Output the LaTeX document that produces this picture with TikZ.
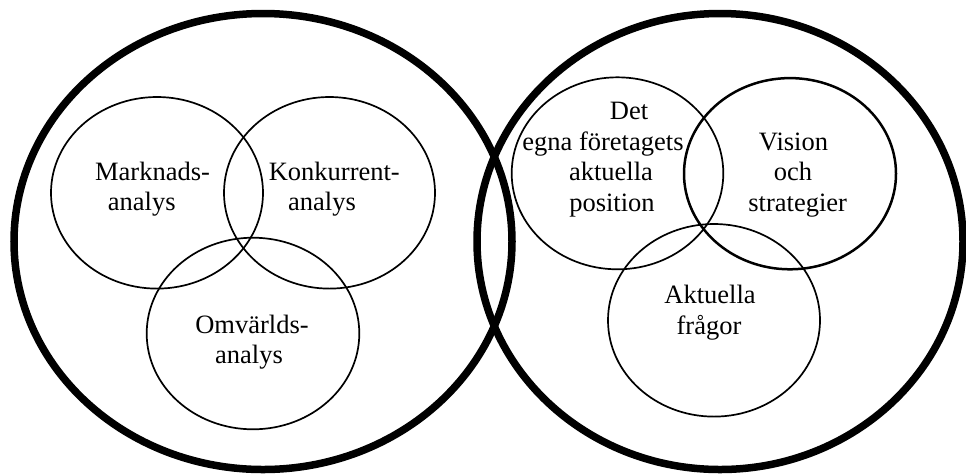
\documentclass[tikz,border=0pt]{standalone}
\usepackage{fontspec}
\setmainfont{Liberation Serif}

% one line of a label, shifted sideways by #1 from the label's axis
\newcommand\shiftedline[2]{\makebox[0pt]{\hspace*{#1}#2\hspace*{-#1}}}

\begin{document}
\begin{tikzpicture}[x=1pt,y=-1pt,
  outerring/.style={line width=7.5pt},
  innerring/.style={line width=1.7pt},
  boldring/.style={line width=2.5pt},
  label/.style={align=center,anchor=base,inner sep=0pt,
    font=\fontsize{26.5pt}{30.5pt}\selectfont}]
  \useasboundingbox[fill=white] (0,0) rectangle (966,475);

  % two large rings
  \draw[outerring] (263,241.5) ellipse [x radius=249pt, y radius=228pt];
  \draw[outerring] (720,241.5) ellipse [x radius=243pt, y radius=228pt];

  % left group
  \draw[innerring] (157,192.8) ellipse [x radius=106pt, y radius=95.8pt];
  \draw[innerring] (329.5,192.8) ellipse [x radius=105.5pt, y radius=95.8pt];
  \draw[innerring] (253,333.5) ellipse [x radius=106.3pt, y radius=95.8pt];

  % right group
  \draw[innerring] (617.5,173.3) ellipse [x radius=105.8pt, y radius=96pt];
  \draw[boldring]  (790,173.7) ellipse [x radius=106pt, y radius=95.6pt];
  \draw[innerring] (714,320.3) ellipse [x radius=106pt, y radius=96.3pt];

  % labels (anchored at the baseline of their last line)
  \node[label] (marknad) at (147,210.5)
    {\shiftedline{5.5pt}{Marknads-}\\\shiftedline{-5.3pt}{analys}};
  \node[label] (konkurrent) at (328,210.5)
    {\shiftedline{6.3pt}{Konkurrent-}\\\shiftedline{-6pt}{analys}};
  \node[label] (omvarld) at (250.5,363.5)
    {\shiftedline{1.5pt}{Omvärlds-}\\\shiftedline{-1.5pt}{analys}};
  \node[label] (position) at (612,211)
    {\shiftedline{17pt}{Det}\\\shiftedline{-9pt}{egna företagets}\\
     \shiftedline{-1pt}{aktuella}\\\shiftedline{0pt}{position}};
  \node[label] (vision) at (794.7,211)
    {\shiftedline{-1.2pt}{Vision}\\\shiftedline{-1.7pt}{och}\\
     \shiftedline{3pt}{strategier}};
  \node[label] (fragor) at (709.5,334)
    {\shiftedline{0.5pt}{Aktuella}\\\shiftedline{-0.5pt}{frågor}};
\end{tikzpicture}
\end{document}
